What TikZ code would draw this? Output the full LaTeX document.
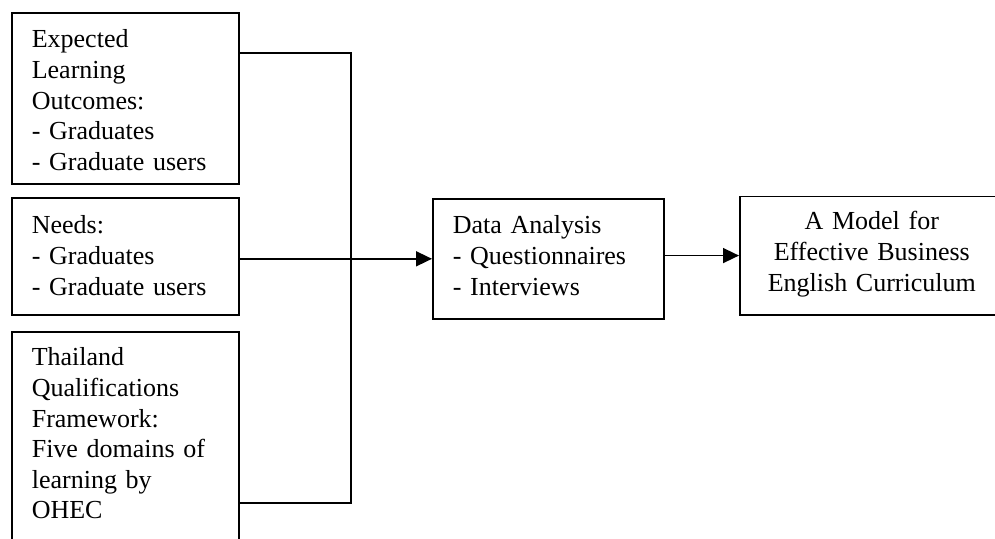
\documentclass[tikz,border=0pt]{standalone}
\usepackage{fontspec}
\setmainfont{Liberation Serif}
\usetikzlibrary{arrows.meta}
\tikzset{
	box/.style={draw, line width=0.8pt, anchor=north west, align=left, inner ysep=0pt, inner xsep=10pt, font=\fontsize{13pt}{15.3pt}\selectfont},
}
\begin{document}
\begin{tikzpicture}[x=0.5pt,y=-0.5pt,>={Triangle[length=8pt,width=7.5pt]}]
	\clip (0,0) rectangle (995,538);
	\node[box, text width=93.5pt, text height=17.5pt, text depth=68pt] (elo) at (11,12) {Expected\\Learning\\Outcomes:\\- Graduates\\- Graduate users}; %outcomes
	\node[box, text width=93.5pt, text height=18pt, text depth=40.5pt] (needs) at (11,197) {Needs:\\- Graduates\\- Graduate users};
	\node[box, text width=93.5pt, text height=17pt, text depth=120pt] (tqf) at (11,331) {Thailand\\Qualifications\\Framework:\\Five domains of\\learning by\\OHEC}; %runs off the page
	\node[box, text width=95.5pt, text height=17.5pt, text depth=42.5pt] (analysis) at (432,198) {Data Analysis\\- Questionnaires\\- Interviews};
	\node[box, align=center, text width=112pt, text height=16.75pt, text depth=42.5pt] (model) at (739,195.5) {A Model for\\Effective Business\\English Curriculum};
	\coordinate (top) at (351,53);
	\coordinate (bot) at (351,503);
	\draw[line width=0.8pt] (elo.east |- top) -- (top) -- (bot) -- (tqf.east |- bot); %joins the three
	\draw[line width=0.8pt, ->] (analysis.west -| needs.east) -- (analysis.west);
	\draw[line width=0.8pt, ->] (model.west -| analysis.east) -- (model.west);
\end{tikzpicture}
\end{document}
